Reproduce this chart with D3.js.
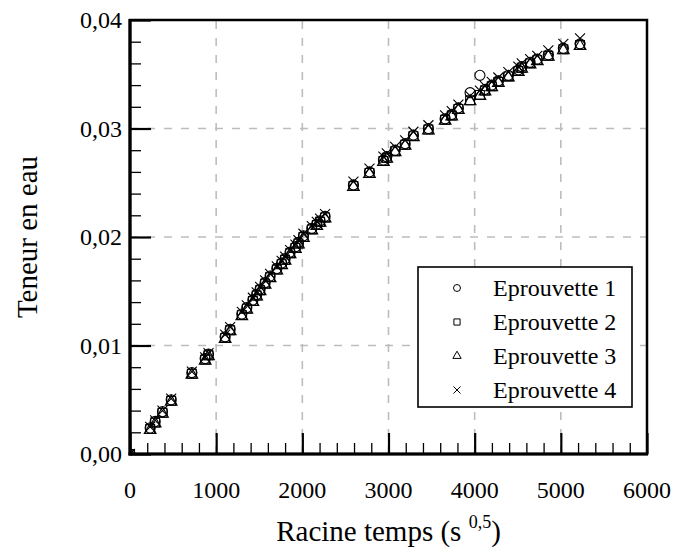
<!DOCTYPE html>
<html><head><meta charset="utf-8">
<script src="https://cdn.jsdelivr.net/npm/d3@7"></script>
</head>
<body style="margin:0;background:#fff"><svg id="c" width="675" height="552"></svg>
<script>
// ---- data ----
const times = [0, 234, 292, 377, 478, 718, 872, 911, 1104, 1162, 1298, 1356, 1426, 1470, 1510, 1568, 1626, 1704, 1760, 1800, 1858, 1920, 1955, 2013, 2110, 2168, 2206, 2264, 2593, 2779, 2941, 2980, 3077, 3193, 3289, 3463, 3657, 3734, 3811, 3947, 4061, 4120, 4198, 4275, 4391, 4507, 4546, 4643, 4727, 4855, 5029, 5223];
const eprouvette1 = [0, 0.0024, 0.0030, 0.0039, 0.0050, 0.0075, 0.0088, 0.0092, 0.0108, 0.0115, 0.0129, 0.0135, 0.0142, 0.0147, 0.0152, 0.0158, 0.0164, 0.0171, 0.0176, 0.0180, 0.0186, 0.0191, 0.0195, 0.0201, 0.0208, 0.0212, 0.0215, 0.0219, 0.0248, 0.0260, 0.0271, 0.0274, 0.0280, 0.0286, 0.0294, 0.0300, 0.0309, 0.0313, 0.0319, 0.0333, 0.0349, 0.0336, 0.0340, 0.0344, 0.0349, 0.0354, 0.0357, 0.0361, 0.0364, 0.0368, 0.0374, 0.0378];
const eprouvette2 = [0, 0.0023, 0.0029, 0.0038, 0.0049, 0.0074, 0.0087, 0.0091, 0.0107, 0.0114, 0.0128, 0.0134, 0.0141, 0.0146, 0.0151, 0.0157, 0.0163, 0.0170, 0.0175, 0.0179, 0.0185, 0.0190, 0.0194, 0.0200, 0.0207, 0.0211, 0.0214, 0.0218, 0.0247, 0.0259, 0.0270, 0.0273, 0.0279, 0.0285, 0.0293, 0.0299, 0.0308, 0.0312, 0.0318, 0.0326, 0.0331, 0.0335, 0.0339, 0.0343, 0.0348, 0.0353, 0.0356, 0.0360, 0.0363, 0.0367, 0.0373, 0.0377];
const eprouvette3 = [0, 0.0022, 0.0028, 0.0037, 0.0048, 0.0073, 0.0086, 0.0090, 0.0106, 0.0113, 0.0127, 0.0133, 0.0140, 0.0145, 0.0150, 0.0156, 0.0162, 0.0169, 0.0174, 0.0178, 0.0184, 0.0189, 0.0193, 0.0199, 0.0206, 0.0210, 0.0213, 0.0217, 0.0246, 0.0258, 0.0269, 0.0272, 0.0278, 0.0284, 0.0292, 0.0298, 0.0307, 0.0311, 0.0317, 0.0325, 0.0330, 0.0334, 0.0338, 0.0342, 0.0347, 0.0352, 0.0355, 0.0359, 0.0362, 0.0366, 0.0372, 0.0376];
const eprouvette4 = [0, 0.0025, 0.0031, 0.0040, 0.0051, 0.0076, 0.0089, 0.0093, 0.0110, 0.0117, 0.0131, 0.0137, 0.0144, 0.0149, 0.0154, 0.0160, 0.0166, 0.0173, 0.0178, 0.0182, 0.0188, 0.0193, 0.0197, 0.0203, 0.0210, 0.0214, 0.0217, 0.0221, 0.0251, 0.0263, 0.0274, 0.0277, 0.0283, 0.0289, 0.0297, 0.0303, 0.0312, 0.0316, 0.0322, 0.0330, 0.0335, 0.0339, 0.0343, 0.0347, 0.0352, 0.0357, 0.0360, 0.0364, 0.0367, 0.0372, 0.0378, 0.0383];
const seriesNames = ["Eprouvette 1", "Eprouvette 2", "Eprouvette 3", "Eprouvette 4"];
const xTicks = [0, 1000, 2000, 3000, 4000, 5000, 6000];
const yTicks = [0, 0.01, 0.02, 0.03, 0.04];
const xTitle = "Racine temps (s ";
const xTitleSup = "0,5";
const yTitle = "Teneur en eau";

// ---- layout ----
const FONT = '"Liberation Serif", monospace';
const svg = d3.select("#c");
const L = 130, R = 647, T = 20, B = 454;
const x = d3.scaleLinear().domain([0, 6000]).range([L, R]);
const y = d3.scaleLinear().domain([0, 0.04]).range([B, T]);
const fr = d3.formatLocale({decimal: ",", thousands: "", grouping: [3], currency: ["", ""]});
const fy = fr.format(".2f");

svg.append("defs").append("clipPath").attr("id", "clip")
  .append("rect").attr("x", L).attr("y", T).attr("width", R - L).attr("height", B - T);

// grid
const grid = svg.append("g").attr("stroke", "#bdbdbd").attr("stroke-width", 1.6).attr("stroke-dasharray", "8,9");
grid.selectAll("line.v").data(xTicks.slice(1, -1)).join("line").attr("class", "v")
  .attr("x1", d => x(d)).attr("x2", d => x(d)).attr("y1", B).attr("y2", T);
grid.selectAll("line.h").data(yTicks.slice(1, -1)).join("line").attr("class", "h")
  .attr("x1", L).attr("x2", R).attr("y1", d => y(d)).attr("y2", d => y(d));

// ticks (inward), drawn with d3 axes
const xMinor = d3.range(0, 6001, 200).filter(v => v % 1000 !== 0);
const yMinor = d3.range(0, 41, 2).map(v => v / 1000).filter(v => Math.round(v * 1000) % 10 !== 0);

const gxMinor = svg.append("g").attr("transform", `translate(0,${B})`)
  .call(d3.axisBottom(x).tickValues(xMinor).tickSize(-11).tickFormat(""));
gxMinor.select(".domain").remove();
gxMinor.selectAll("line").attr("stroke-width", 1.3);
gxMinor.selectAll("text").remove();
const gyMinor = svg.append("g").attr("transform", `translate(${L},0)`)
  .call(d3.axisLeft(y).tickValues(yMinor).tickSize(-11).tickFormat(""));
gyMinor.select(".domain").remove();
gyMinor.selectAll("line").attr("stroke-width", 1.3);
gyMinor.selectAll("text").remove();

const gx = svg.append("g").attr("transform", `translate(0,${B})`)
  .call(d3.axisBottom(x).tickValues(xTicks).tickSize(-21).tickFormat(""));
gx.select(".domain").remove();
gx.selectAll("line").attr("stroke-width", 2.2);
gx.selectAll("text").remove();

const gy = svg.append("g").attr("transform", `translate(${L},0)`)
  .call(d3.axisLeft(y).tickValues(yTicks).tickSize(-21).tickFormat(""));
gy.select(".domain").remove();
gy.selectAll("line").attr("stroke-width", 2.2);
gy.selectAll("text").remove();

// tick labels as plain texts placed by the scales
const labels = svg.append("g");
labels.selectAll("text.xl").data(xTicks).join("text").attr("class", "xl")
  .attr("x", d => x(d)).attr("y", B + 44).attr("text-anchor", "middle")
  .attr("font-family", FONT).attr("font-size", 24).attr("fill", "#000")
  .text(d => d3.format("d")(d));
labels.selectAll("text.yl").data(yTicks).join("text").attr("class", "yl")
  .attr("x", L - 8).attr("y", d => y(d) + 8).attr("text-anchor", "end")
  .attr("font-family", FONT).attr("font-size", 24).attr("fill", "#000")
  .text(d => fy(d));

// data marks
const xShape = {
  draw(ctx, size) {
    const r = Math.sqrt(size) / 2;
    ctx.moveTo(-r, -r); ctx.lineTo(r, r);
    ctx.moveTo(r, -r); ctx.lineTo(-r, r);
  }
};
const shapes = [d3.symbolCircle, d3.symbolSquare, d3.symbolTriangle, xShape];
const sizes = [80, 78, 60, 100];
const legendSizes = [38, 38, 30, 50];
const allSeries = [eprouvette1, eprouvette2, eprouvette3, eprouvette4];

const plot = svg.append("g").attr("clip-path", "url(#clip)");
allSeries.forEach((vals, i) => {
  const sym = d3.symbol().type(shapes[i]).size(sizes[i]);
  plot.append("g").selectAll("path").data(times.map((t, k) => [t, vals[k]])).join("path")
    .attr("transform", d => `translate(${x(d[0])},${y(d[1])})`)
    .attr("d", sym)
    .attr("fill", "none").attr("stroke", "#000").attr("stroke-width", 1.1);
});

// frame
svg.append("rect").attr("x", L).attr("y", T).attr("width", R - L).attr("height", B - T)
  .attr("fill", "none").attr("stroke", "#000").attr("stroke-width", 2.5);
svg.append("line").attr("x1", L).attr("x2", L).attr("y1", T - 1).attr("y2", B + 1.5).attr("stroke", "#000").attr("stroke-width", 3.2);
svg.append("line").attr("x1", L - 1.5).attr("x2", R + 1).attr("y1", B).attr("y2", B).attr("stroke", "#000").attr("stroke-width", 3.2);

// legend
const lg = svg.append("g");
lg.append("rect").attr("x", 418).attr("y", 267).attr("width", 214).attr("height", 140)
  .attr("fill", "#fff").attr("stroke", "#000").attr("stroke-width", 1.6);
seriesNames.forEach((name, i) => {
  const cy = 288 + i * 34;
  lg.append("path").attr("transform", `translate(457,${cy})`)
    .attr("d", d3.symbol().type(shapes[i]).size(legendSizes[i]))
    .attr("fill", "none").attr("stroke", "#000").attr("stroke-width", 1);
  lg.append("text").attr("x", 493).attr("y", cy + 8).attr("font-family", FONT).attr("font-size", 24).attr("fill", "#000").text(name);
});

// axis titles
const xt = svg.append("text").attr("x", (L + R) / 2).attr("y", 541).attr("text-anchor", "middle")
  .attr("font-family", FONT).attr("font-size", 29).attr("fill", "#000");
xt.append("tspan").text(xTitle);
xt.append("tspan").attr("font-size", 18).attr("dy", -13).text(xTitleSup);
xt.append("tspan").attr("dy", 13).text(")");

svg.append("text").attr("transform", `translate(37,237) rotate(-90)`).attr("text-anchor", "middle")
  .attr("font-family", FONT).attr("font-size", 29).attr("fill", "#000").text(yTitle);

// force layout of the texts
svg.selectAll("text").each(function () { this.getComputedTextLength(); });
</script></body></html>
